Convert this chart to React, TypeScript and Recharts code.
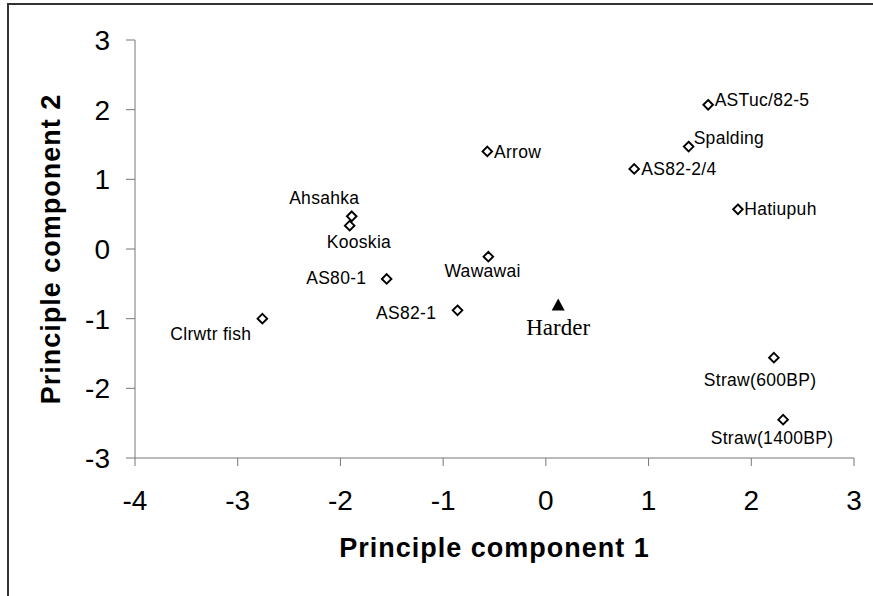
import React from 'react';
import { ScatterChart, Scatter, XAxis, YAxis } from 'recharts';

// ---- data ----
const varietyNames = [
  'ASTuc/82-5',
  'Spalding',
  'AS82-2/4',
  'Hatiupuh',
  'Arrow',
  'Ahsahka',
  'Kooskia',
  'AS80-1',
  'Wawawai',
  'AS82-1',
  'Clrwtr fish',
  'Straw(600BP)',
  'Straw(1400BP)',
];
const varietyPc1 = [1.58, 1.39, 0.86, 1.87, -0.57, -1.89, -1.91, -1.55, -0.56, -0.86, -2.76, 2.22, 2.31];
const varietyPc2 = [2.07, 1.47, 1.15, 0.57, 1.4, 0.47, 0.335, -0.43, -0.11, -0.88, -1.0, -1.56, -2.45];

const referenceNames = ['Harder'];
const referencePc1 = [0.12];
const referencePc2 = [-0.81];

const xTicks = [-4, -3, -2, -1, 0, 1, 2, 3];
const yTicks = [-3, -2, -1, 0, 1, 2, 3];

const xTitle = 'Principle component 1';
const yTitle = 'Principle component 2';

// ---- label layout (relative to each marker) ----
type Anchor = 'start' | 'middle' | 'end';
const labelLayout: Record<string, { dx: number; dy: number; anchor: Anchor }> = {
  'ASTuc/82-5': { dx: 6.5, dy: -4.7, anchor: 'start' },
  Spalding: { dx: 5, dy: -8.4, anchor: 'start' },
  'AS82-2/4': { dx: 7, dy: 0, anchor: 'start' },
  Hatiupuh: { dx: 6.3, dy: -0.6, anchor: 'start' },
  Arrow: { dx: 6.7, dy: 0.5, anchor: 'start' },
  Ahsahka: { dx: -27.5, dy: -18.4, anchor: 'middle' },
  Kooskia: { dx: 9.3, dy: 16, anchor: 'middle' },
  'AS80-1': { dx: -20.3, dy: -0.8, anchor: 'end' },
  Wawawai: { dx: -5.7, dy: 14.5, anchor: 'middle' },
  'AS82-1': { dx: -21.3, dy: 2, anchor: 'end' },
  'Clrwtr fish': { dx: -11, dy: 15.5, anchor: 'end' },
  'Straw(600BP)': { dx: -13.8, dy: 21.7, anchor: 'middle' },
  'Straw(1400BP)': { dx: -11.1, dy: 18.1, anchor: 'middle' },
  Harder: { dx: 0, dy: 22, anchor: 'middle' },
};

const varietyData = varietyNames.map((name, i) => ({ name, x: varietyPc1[i], y: varietyPc2[i] }));
const referenceData = referenceNames.map((name, i) => ({ name, x: referencePc1[i], y: referencePc2[i] }));

const SANS = '"Liberation Sans", Arial, Helvetica, sans-serif';
const SERIF = '"Liberation Serif", "Times New Roman", Times, serif';

const DiamondShape = (props: any) => {
  const { cx, cy, payload } = props;
  if (cx == null || cy == null) return null;
  const r = 4.8;
  const lay = labelLayout[payload.name] || { dx: 7, dy: 0, anchor: 'start' as Anchor };
  return (
    <g>
      <path
        d={`M${cx},${cy - r} L${cx + r},${cy} L${cx},${cy + r} L${cx - r},${cy} Z`}
        fill="#fff"
        stroke="#000"
        strokeWidth={1.9}
      />
      <text
        x={cx + lay.dx}
        y={cy + lay.dy}
        dy="0.36em"
        textAnchor={lay.anchor}
        fontFamily={SANS}
        fontSize={17.5}
        letterSpacing={0.3}
        fill="#000"
      >
        {payload.name}
      </text>
    </g>
  );
};

const TriangleShape = (props: any) => {
  const { cx, cy, payload } = props;
  if (cx == null || cy == null) return null;
  const lay = labelLayout[payload.name] || { dx: 0, dy: 22, anchor: 'middle' as Anchor };
  return (
    <g>
      <path d={`M${cx},${cy - 7} L${cx + 6.5},${cy + 5} L${cx - 6.5},${cy + 5} Z`} fill="#000" stroke="none" />
      <text
        x={cx + lay.dx}
        y={cy + lay.dy}
        dy="0.33em"
        textAnchor={lay.anchor}
        fontFamily={SERIF}
        fontSize={23}
        fill="#000"
      >
        {payload.name}
      </text>
    </g>
  );
};

export default function App() {
  return (
    <div style={{ position: 'absolute', left: 0, top: 0, width: 873, height: 596, background: '#fff', overflow: 'hidden' }}>
      <div
        style={{
          position: 'absolute',
          left: 7,
          top: 3,
          width: 866,
          height: 593,
          borderTop: '2px solid #333',
          borderLeft: '2px solid #333',
          boxSizing: 'border-box',
          pointerEvents: 'none',
        }}
      />
      <div style={{ position: 'absolute', left: 0, top: 0 }}>
        <ScatterChart width={873} height={596} margin={{ top: 40, right: 19, bottom: 0, left: 0 }}>
          <XAxis
            type="number"
            dataKey="x"
            domain={[-4, 3]}
            ticks={xTicks}
            interval={0}
            allowDataOverflow
            height={138}
            stroke="#777"
            tickSize={8}
            tickMargin={24}
            tick={{ fill: '#000', fontSize: 28, fontFamily: SANS }}
            tickLine={{ stroke: '#777' }}
            axisLine={{ stroke: '#777' }}
            label={{
              value: xTitle,
              position: 'insideBottom',
              offset: 39,
              style: { fontFamily: SANS, fontSize: 27, fontWeight: 'bold', fill: '#000', letterSpacing: 1 },
            }}
          />
          <YAxis
            type="number"
            dataKey="y"
            domain={[-3, 3]}
            ticks={yTicks}
            interval={0}
            allowDataOverflow
            width={135}
            stroke="#777"
            tickSize={9}
            tickMargin={16}
            tick={{ fill: '#000', fontSize: 28, fontFamily: SANS }}
            tickLine={{ stroke: '#777' }}
            axisLine={{ stroke: '#777' }}
            label={{
              value: yTitle,
              angle: -90,
              position: 'insideLeft',
              offset: 50,
              style: { textAnchor: 'middle', fontFamily: SANS, fontSize: 27, fontWeight: 'bold', fill: '#000', letterSpacing: 1 },
            }}
          />
          <Scatter data={varietyData} shape={DiamondShape} isAnimationActive={false} />
          <Scatter data={referenceData} shape={TriangleShape} isAnimationActive={false} />
        </ScatterChart>
      </div>
    </div>
  );
}
